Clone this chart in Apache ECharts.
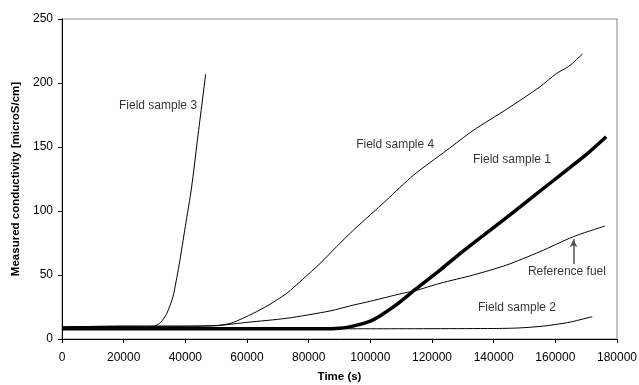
<!DOCTYPE html>
<html>
<head>
<meta charset="utf-8">
<script src="https://cdn.jsdelivr.net/npm/echarts@6/dist/echarts.min.js"></script>
<style>
  html, body { margin: 0; padding: 0; background: #fff; }
  #main { width: 639px; height: 385px; }
</style>
</head>
<body>
<div id="main"></div>
<script>
// 曲线数据
var fs1X = [0, 30000, 60000, 85000, 90000, 92400, 96000, 100000, 103100, 108600, 114500, 122600, 130000, 145300, 160000, 170000, 176500];
var fs1Y = [8, 8, 8, 8, 8.4, 9.1, 11, 14, 18, 27, 38.5, 53.8, 68.5, 97, 125, 144, 158];

var fs2X = [0, 30000, 60000, 100000, 140000, 148000, 155000, 160000, 165000, 172000];
var fs2Y = [8, 8, 8, 8, 8.2, 8.6, 9.8, 11.3, 13.3, 17.5];

var fs3X = [0, 10000, 20000, 28000, 30000, 32000, 34000, 36000, 37000, 38000, 40000, 42000, 44000, 46600];
var fs3Y = [9, 9.5, 9.5, 9, 10, 13, 20, 33, 45, 58, 88, 118, 157, 207];

var fs4X = [0, 20000, 40000, 50000, 55000, 62000, 67000, 72900, 78000, 83700, 89000, 94500, 100000, 105300, 114000, 124800, 133400, 144200, 155000, 160400, 164200, 168800];
var fs4Y = [9.5, 10, 10, 10.5, 12.5, 20, 26.5, 35.7, 46.5, 59, 72, 85, 97, 108.6, 128, 147.5, 163, 179.5, 197, 207.5, 212.7, 222.6];

var refX = [0, 20000, 40000, 48000, 51200, 60000, 72900, 86900, 94500, 100000, 109600, 114500, 122600, 133400, 144200, 155000, 165900, 176100];
var refY = [9.5, 10, 10, 10.3, 10.6, 13, 16.2, 21.9, 26.5, 29.5, 35.2, 37.7, 43.5, 50, 57.8, 68.2, 80, 88.3];

// 文字标注
var labelTexts = ['Field sample 3', 'Field sample 4', 'Field sample 1', 'Reference fuel', 'Field sample 2'];
var labelX = [43800, 95400, 133300, 151100, 134900];
var labelY = [182, 152, 140, 52.3, 24.2];
var labelAlign = ['right', 'left', 'left', 'left', 'left'];

// 箭头 (Reference fuel)
var arrowFrom = [165900, 58.5];
var arrowTo = [165900, 78];

function pairs(xs, ys) {
    var out = [];
    for (var i = 0; i < xs.length; i++) out.push([xs[i], ys[i]]);
    return out;
}

var font = 'Arial, "Liberation Sans", sans-serif';

function lineSeries(name, xs, ys, w) {
    return {
        name: name,
        type: 'line',
        data: pairs(xs, ys),
        showSymbol: false,
        smooth: 0.25,
        lineStyle: { color: '#000', width: w },
        itemStyle: { color: '#000' },
        z: 3
    };
}

var labelData = [];
for (var i = 0; i < labelTexts.length; i++) {
    labelData.push({
        value: [labelX[i], labelY[i]],
        label: { formatter: labelTexts[i], align: labelAlign[i] }
    });
}

var myChart = echarts.init(document.getElementById('main'));
var option = {
    animation: false,
    backgroundColor: '#fff',
    grid: {
        left: 62, top: 19, width: 555, height: 320,
        outerBoundsMode: 'none',
        containLabel: false,
        show: true, borderColor: '#888', borderWidth: 1, backgroundColor: 'transparent'
    },
    xAxis: {
        type: 'value',
        min: 0, max: 180000, interval: 20000,
        name: 'Time (s)',
        nameLocation: 'middle',
        nameGap: 32,
        nameTextStyle: { fontFamily: font, fontSize: 11.5, fontWeight: 'bold', color: '#000' },
        axisLine: { show: true, onZero: false, lineStyle: { color: '#000', width: 1 } },
        axisTick: { show: true, inside: false, length: 4, lineStyle: { color: '#000' } },
        axisLabel: { fontFamily: font, fontSize: 12, color: '#000', margin: 13, formatter: function (v) { return String(v); } },
        splitLine: { show: false }
    },
    yAxis: {
        type: 'value',
        min: 0, max: 250, interval: 50,
        name: 'Measured conductivity [microS/cm]',
        nameLocation: 'middle',
        nameGap: 38,
        nameTextStyle: { fontFamily: font, fontSize: 11.5, fontWeight: 'bold', color: '#000' },
        axisLine: { show: true, onZero: false, lineStyle: { color: '#000', width: 1 } },
        axisTick: { show: true, inside: false, length: 4, lineStyle: { color: '#000' } },
        axisLabel: { fontFamily: font, fontSize: 12, color: '#000', margin: 9 },
        splitLine: { show: false }
    },
    series: [
        lineSeries('Field sample 2', fs2X, fs2Y, 1),
        lineSeries('Reference fuel', refX, refY, 1),
        lineSeries('Field sample 3', fs3X, fs3Y, 1),
        lineSeries('Field sample 4', fs4X, fs4Y, 1),
        lineSeries('Field sample 1', fs1X, fs1Y, 3.5),
        {
            name: 'labels',
            type: 'scatter',
            data: labelData,
            symbolSize: 0,
            silent: true,
            label: {
                show: true,
                position: 'inside',
                verticalAlign: 'middle',
                fontFamily: font,
                fontSize: 12,
                color: '#000'
            },
            markLine: {
                silent: true,
                symbol: ['none', 'arrow'],
                symbolSize: [6, 8],
                label: { show: false },
                lineStyle: { color: '#555', width: 1.5, type: 'solid' },
                data: [[{ coord: arrowFrom }, { coord: arrowTo }]]
            },
            z: 5
        }
    ]
};
myChart.setOption(option);
</script>
</body>
</html>
